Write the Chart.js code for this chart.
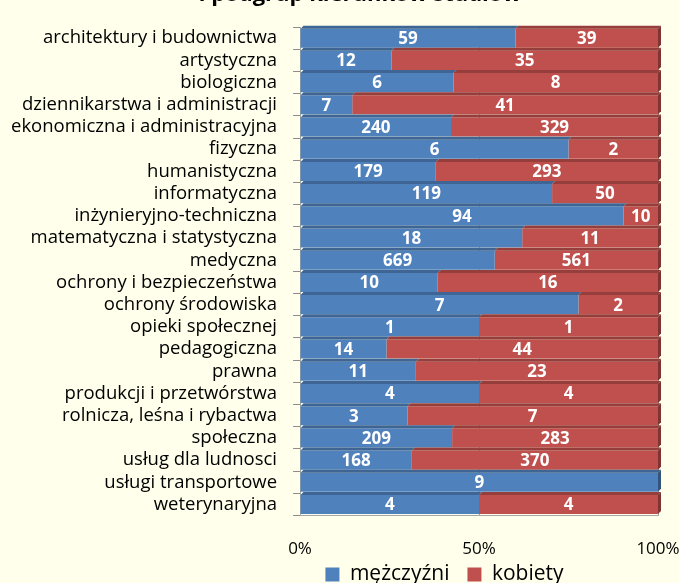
<!DOCTYPE html>
<html>
<head>
<meta charset="utf-8">
<script src="https://cdn.jsdelivr.net/npm/chart.js"></script>
<style>
  html, body { margin: 0; padding: 0; background: #FFFFEB; }
  #wrap { width: 679px; height: 583px; }
</style>
</head>
<body>
<div id="wrap"><canvas id="chart" width="679" height="583"></canvas></div>
<script>
// kategorie (podgrupy kierunków)
const categories = [
    'architektury i budownictwa', 'artystyczna', 'biologiczna',
    'dziennikarstwa i administracji', 'ekonomiczna i administracyjna', 'fizyczna',
    'humanistyczna', 'informatyczna', 'inżynieryjno-techniczna',
    'matematyczna i statystyczna', 'medyczna', 'ochrony i bezpieczeństwa',
    'ochrony środowiska', 'opieki społecznej', 'pedagogiczna', 'prawna',
    'produkcji i przetwórstwa', 'rolnicza, leśna i rybactwa', 'społeczna',
    'usług dla ludnosci', 'usługi transportowe', 'weterynaryjna'
];
const men = [59, 12, 6, 7, 240, 6, 179, 119, 94, 18, 669, 10, 7, 1, 14, 11, 4, 3, 209, 168, 9, 4];
const women = [39, 35, 8, 41, 329, 2, 293, 50, 10, 11, 561, 16, 2, 1, 44, 23, 4, 7, 283, 370, 0, 4];
const xTicks = [0, 50, 100];
const titleText = 'i podgrup kierunków studiów';

const FONT = '"Open Sans"';
const BLUE = '#4F81BD', RED = '#C0504D';

// udziały procentowe (wykres 100%)
const menPct = men.map((m, i) => m / (m + women[i]) * 100);
const womenPct = women.map((w, i) => w / (men[i] + w) * 100);

function shade(hex, f) {
    const n = parseInt(hex.slice(1), 16);
    const r = Math.round(((n >> 16) & 255) * f), g = Math.round(((n >> 8) & 255) * f), b = Math.round((n & 255) * f);
    return `rgb(${r},${g},${b})`;
}

// legenda przesunięta w prawo, etykiety osi X nieprzycinane
const layoutFix = {
    id: 'layoutFix',
    afterLayout(chart) {
        chart.legend.left += 105;
        chart.legend.right += 105;
        chart.scales.x.bottom += 40;
    }
};

// efekt 3D + etykiety danych
const bars3d = {
    id: 'bars3d',
    afterDatasetsDraw(chart) {
        const ctx = chart.ctx;
        const d = 3;
        ctx.save();
        chart.data.datasets.forEach((ds, di) => {
            const meta = chart.getDatasetMeta(di);
            meta.data.forEach((bar, i) => {
                const raw = ds.raw[i];
                if (!raw) return;
                const top = bar.y - bar.height / 2;
                const bot = bar.y + bar.height / 2;
                const x0 = Math.min(bar.x, bar.base), x1 = Math.max(bar.x, bar.base);
                ctx.fillStyle = shade(ds.backgroundColor, 0.78);
                ctx.beginPath();
                ctx.moveTo(x0, top); ctx.lineTo(x0 + d, top - d);
                ctx.lineTo(x1 + d, top - d); ctx.lineTo(x1, top);
                ctx.closePath(); ctx.fill();
                const last = di === 1 ? true : !ds.other[i];
                if (last) {
                    ctx.fillStyle = shade(ds.backgroundColor, 0.65);
                    ctx.beginPath();
                    ctx.moveTo(x1, top); ctx.lineTo(x1 + d, top - d);
                    ctx.lineTo(x1 + d, bot - d); ctx.lineTo(x1, bot);
                    ctx.closePath(); ctx.fill();
                }
            });
        });
        ctx.fillStyle = '#FFFFFF';
        ctx.font = 'bold 17px ' + FONT;
        ctx.textAlign = 'center';
        ctx.textBaseline = 'middle';
        chart.data.datasets.forEach((ds, di) => {
            const meta = chart.getDatasetMeta(di);
            meta.data.forEach((bar, i) => {
                const raw = ds.raw[i];
                if (!raw) return;
                ctx.fillText(String(raw), (bar.x + bar.base) / 2, bar.y + 1);
            });
        });
        // ucięty tytuł u góry
        ctx.fillStyle = '#000000';
        ctx.font = 'bold 22px ' + FONT;
        ctx.textAlign = 'center';
        ctx.textBaseline = 'alphabetic';
        ctx.fillText(titleText, 360, 1);
        ctx.restore();
    }
};

new Chart(document.getElementById('chart'), {
    type: 'bar',
    data: {
        labels: categories,
        datasets: [
            { label: 'mężczyźni', data: menPct, raw: men, other: women, backgroundColor: BLUE },
            { label: 'kobiety', data: womenPct, raw: women, other: men, backgroundColor: RED }
        ]
    },
    options: {
        indexAxis: 'y',
        responsive: false,
        animation: false,
        barPercentage: 0.86,
        categoryPercentage: 1,
        layout: { padding: { top: 19, right: 0, left: 0, bottom: -12 } },
        scales: {
            x: {
                stacked: true,
                min: 0,
                max: 100,
                afterBuildTicks(axis) { axis.ticks = xTicks.map(v => ({ value: v })); },
                afterFit(scale) {
                    scale.height -= 36;
                    scale.paddingRight = 21;
                },
                ticks: {
                    callback: v => v + '%',
                    color: '#000',
                    font: { family: FONT, size: 17 },
                    padding: 23
                },
                grid: { color: '#A6A6A6', drawTicks: false },
                border: { color: '#A6A6A6' }
            },
            y: {
                stacked: true,
                afterFit(scale) { scale.width -= 5; },
                ticks: {
                    color: '#000',
                    font: { family: FONT, size: 18.5 },
                    padding: 16,
                    autoSkip: false
                },
                grid: { drawOnChartArea: false, color: '#8C8C8C', tickLength: 7 },
                border: { color: '#A6A6A6' }
            }
        },
        plugins: {
            legend: {
                position: 'bottom',
                labels: {
                    color: '#000',
                    font: { family: FONT, size: 21 },
                    boxWidth: 14,
                    boxHeight: 14,
                    padding: 18
                }
            },
            tooltip: { enabled: false }
        }
    },
    plugins: [layoutFix, bars3d]
});
</script>
</body>
</html>
